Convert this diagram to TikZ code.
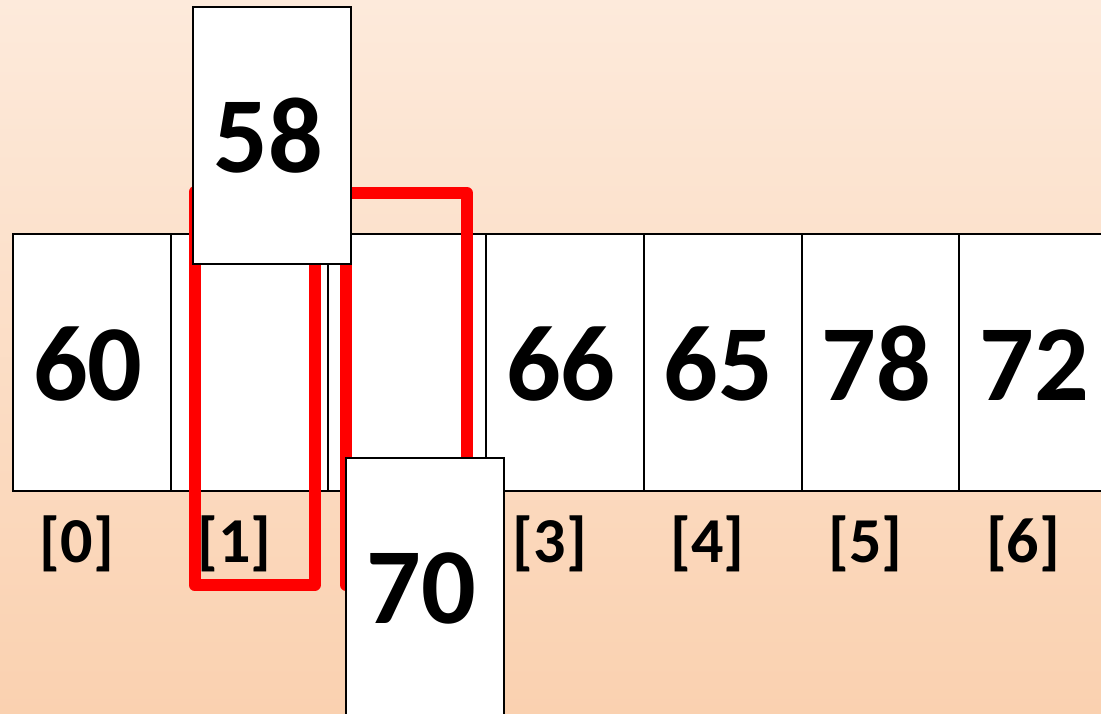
\documentclass[tikz,border=0pt]{standalone}
\usepackage{fontspec}
\setmainfont{Carlito}
\definecolor{bgtop}{HTML}{FDEADB}
\definecolor{bgbot}{HTML}{FAD1B0}
\definecolor{hl}{HTML}{FF0000}
\begin{document}
\begin{tikzpicture}[x=1pt,y=-1pt,
  cell/.style={draw=black,line width=2pt,fill=white,minimum width=157.7pt,minimum height=257pt,inner sep=0pt},
  num/.style={font=\fontsize{108}{108}\selectfont\bfseries,anchor=base,inner sep=0pt},
  idx/.style={font=\fontsize{64}{64}\selectfont\bfseries,anchor=base,inner sep=0pt},
  redbox/.style={draw=hl,line width=12pt,line join=round,minimum width=#1,inner sep=0pt}]
\useasboundingbox (0,0) rectangle (1101,713);
\shade[top color=bgtop,bottom color=bgbot] (0,0) rectangle (1101,713);
% array cells
\foreach \i in {0,...,6}{
  \node[cell] (c\i) at ({13+157.7*(\i+0.5)},362.5) {};
}
\node[num] (v0) at ([xshift=-4pt]c0.center |- 0,400) {60};
\node[num] (v3) at ([xshift=-4pt]c3.center |- 0,400) {66};
\node[num] (v4) at ([xshift=-4pt]c4.center |- 0,400) {65};
\node[num] (v5) at ([xshift=-4pt]c5.center |- 0,400) {78};
\node[num] (v6) at ([xshift=-4pt]c6.center |- 0,400) {72};
\foreach \i in {0,1,3,4,5,6}{
  \node[idx] (l\i) at ([xshift=-15pt]c\i.center |- 0,562) {[\i]};
}
% red outlines
\node[redbox=120pt,minimum height=393pt] (r1) at (254.5,388.5) {};
\node[redbox=121pt,minimum height=392pt] (r2) at (406.5,389) {};
% moving cards
\node[cell] (m58) at (272,135.5) {};
\node[num] (t58) at ([xshift=-4pt]m58.center |- 0,172) {58};
\node[cell] (m70) at (425,586.5) {};
\node[num] (t70) at ([xshift=-4pt]m70.center |- 0,623) {70};
\end{tikzpicture}
\end{document}
